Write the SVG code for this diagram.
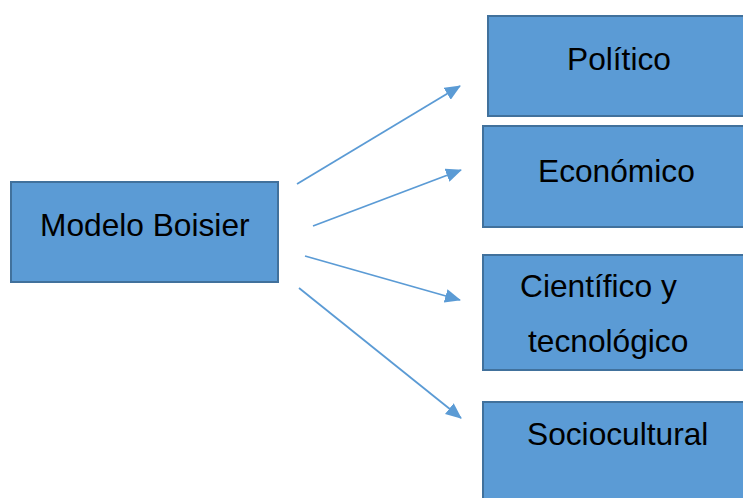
<svg xmlns="http://www.w3.org/2000/svg" width="743" height="498" viewBox="0 0 743 498">
<style>
.box{fill:#5B9BD5;stroke:#41719C;stroke-width:2}
.lbl{font-family:"Liberation Sans",Arial,sans-serif;font-size:31.7px;fill:#000}
.con{stroke:#5B9BD5;stroke-width:1.8;fill:none;marker-end:url(#ah)}
</style>
<defs>
<marker id="ah" markerWidth="16" markerHeight="14" refX="15" refY="7" orient="auto" markerUnits="userSpaceOnUse">
<path d="M0,0 L16,7 L0,14 z" fill="#5B9BD5"/>
</marker>
</defs>
<rect width="743" height="498" fill="#fff"/>
<g id="connectors">
<line class="con" x1="297" y1="184" x2="460" y2="86"/>
<line class="con" x1="313" y1="226" x2="461" y2="170"/>
<line class="con" x1="305" y1="256" x2="460" y2="300"/>
<line class="con" x1="299" y1="288" x2="461" y2="418"/>
</g>
<g id="modelo">
<rect class="box" x="11" y="182" width="267" height="100"/>
<text class="lbl" x="40" y="236">Modelo Boisier</text>
</g>
<g id="politico">
<rect class="box" x="488" y="16" width="265" height="100"/>
<text class="lbl" x="567" y="70">Político</text>
</g>
<g id="economico">
<rect class="box" x="483" y="126" width="270" height="101"/>
<text class="lbl" x="538" y="182">Económico</text>
</g>
<g id="cientifico">
<rect class="box" x="483" y="255" width="270" height="115"/>
<text class="lbl" x="520" y="297">Científico y</text>
<text class="lbl" x="528" y="352">tecnológico</text>
</g>
<g id="sociocultural">
<rect class="box" x="483" y="402" width="270" height="110"/>
<text class="lbl" x="527" y="445">Sociocultural</text>
</g>
</svg>
